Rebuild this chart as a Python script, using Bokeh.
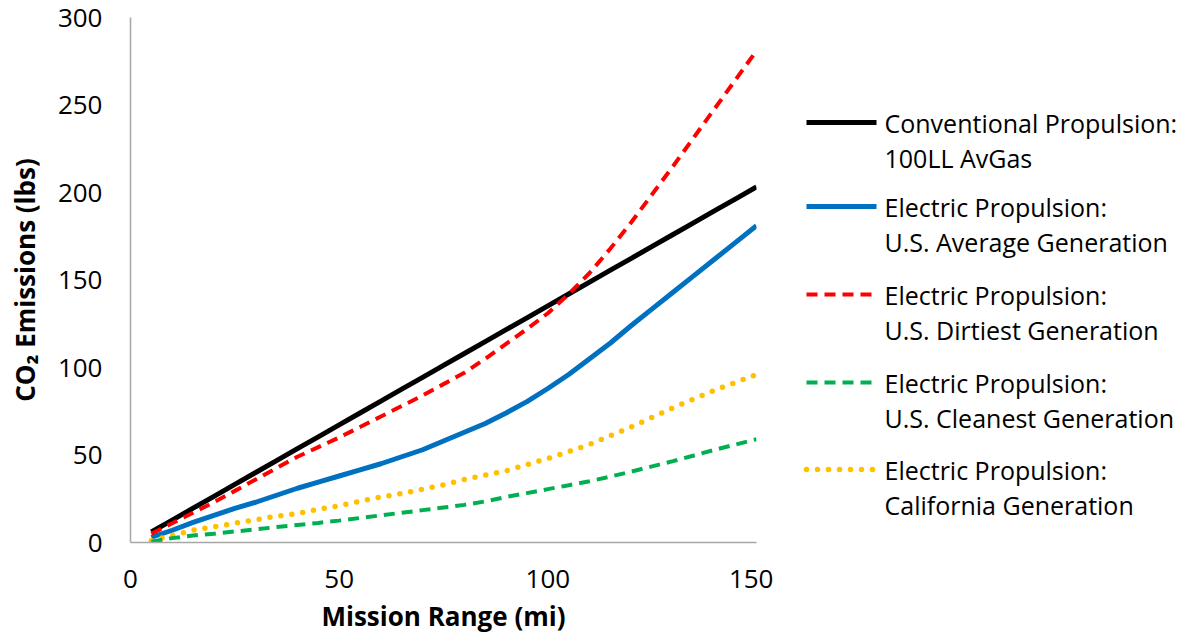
from bokeh.plotting import figure
from bokeh.models import Range1d, FixedTicker
from bokeh.layouts import row
from bokeh.embed import file_html
from bokeh.resources import INLINE
from bokeh.core.properties import value

# Data
mission_range = [5, 10, 15, 20, 25, 30, 35, 40, 45, 50, 55, 60, 65, 70, 75,
                 80, 85, 90, 95, 100, 105, 110, 115, 120, 125, 130, 135, 140, 145, 150]
conventional = [6, 12.8, 19.6, 26.4, 33.2, 40, 46.8, 53.6, 60.4, 67.2, 74, 80.8, 87.6, 94.4, 101.2,
                108, 114.8, 121.6, 128.4, 135.2, 142, 148.8, 155.6, 162.4, 169.2, 176, 182.8, 189.6, 196.4, 203.2]
us_average = [3, 7, 11.5, 15.5, 19.5, 23, 27, 31, 34.5, 38, 41.5, 45, 49, 53, 58,
              63, 68, 74, 80.5, 88, 96, 105, 114, 124, 133.5, 143, 152.5, 162, 171.5, 181]
us_dirtiest = [5, 11, 17, 23, 29.5, 36, 42.5, 49, 54.5, 60, 66, 72, 78, 84, 90.5,
               97, 105, 113.5, 122, 131, 142, 154, 168, 183, 199, 215, 231.5, 248, 264.5, 281]
us_cleanest = [0.5, 2.5, 4, 5, 6.3, 7.5, 8.8, 10, 11.2, 12.5, 14, 15.5, 17, 18.5, 20,
               21.5, 23.5, 26, 28.2, 30.5, 32.7, 35, 37.7, 40.5, 43.5, 46.5, 49.7, 53, 56, 59]
california = [1, 4, 7, 9, 11, 13, 15, 16.5, 19, 21, 23.5, 26, 28, 30.5, 33,
              36, 38.5, 41, 44.5, 48, 52, 56, 61, 66, 71.5, 77, 82, 87, 91.5, 96]

x_ticks = [0, 50, 100, 150]
y_ticks = [0, 50, 100, 150, 200, 250, 300]

series_labels = [
    ("Conventional Propulsion:", "100LL AvGas"),
    ("Electric Propulsion:", "U.S. Average Generation"),
    ("Electric Propulsion:", "U.S. Dirtiest Generation"),
    ("Electric Propulsion:", "U.S. Cleanest Generation"),
    ("Electric Propulsion:", "California Generation"),
]

FONT = "Open Sans"
ML, MT = 130, 17
FW, FH = 626, 525
MAIN_W = 773
LEG_W = 407
H = 637

styles = [
    dict(line_color="#000000", line_width=5, line_dash="solid", line_cap="butt"),
    dict(line_color="#0070C0", line_width=5, line_dash="solid", line_cap="butt"),
    dict(line_color="#FF0000", line_width=4, line_dash="11 7", line_cap="butt"),
    dict(line_color="#00B050", line_width=4, line_dash="11 7", line_cap="butt"),
    dict(line_color="#FFC000", line_width=5.5, line_dash="0 11", line_cap="round"),
]
series = [conventional, us_average, us_dirtiest, us_cleanest, california]

p = figure(width=MAIN_W, height=H, output_backend="svg", toolbar_location=None,
           x_range=Range1d(0, 150), y_range=Range1d(0, 300),
           min_border_left=ML, min_border_top=MT, min_border_right=MAIN_W - ML - FW,
           min_border_bottom=H - MT - FH)
p.outline_line_color = None
p.grid.grid_line_color = None
p.background_fill_color = "white"
p.border_fill_color = "white"

p.xaxis.ticker = FixedTicker(ticks=x_ticks)
p.yaxis.ticker = FixedTicker(ticks=y_ticks)
for ax in (p.xaxis[0], p.yaxis[0]):
    ax.axis_line_color = "#a6a6a6"
    ax.axis_line_width = 1.5
    ax.major_tick_line_color = None
    ax.minor_tick_line_color = None
    ax.major_tick_out = 0
    ax.major_tick_in = 0
    ax.major_label_text_font = FONT
    ax.major_label_text_font_size = "26px"
    ax.major_label_text_color = "#000000"
    ax.axis_label_text_font = FONT
    ax.axis_label_text_font_size = "26px"
    ax.axis_label_text_font_style = "bold"
    ax.axis_label_text_color = "#000000"

p.xaxis.axis_label = "Mission Range (mi)"
p.yaxis.axis_label = "CO\u2082 Emissions (lbs)"
p.xaxis.major_label_standoff = 27
p.xaxis.axis_label_standoff = 7
p.yaxis.major_label_standoff = 28
p.yaxis.axis_label_standoff = 12

order = [1, 4, 3, 0, 2]
for i in order:
    p.line(mission_range, series[i], **styles[i])

# Legend figure: its frame is aligned with the main frame (page y 20..545),
# so the y range is expressed in page pixels.
lg = figure(width=LEG_W, height=H, output_backend="svg", toolbar_location=None,
            x_range=Range1d(0, LEG_W), y_range=Range1d(545, 20),
            x_axis_location=None, y_axis_location=None,
            min_border=0, min_border_left=0, min_border_right=0,
            min_border_top=MT, min_border_bottom=H - MT - FH)
lg.grid.grid_line_color = None
lg.outline_line_color = None

dx = (131 - ML) + MAIN_W
x0 = 807 - dx
x1 = 877 - dx
tx = 885 - dx
row_y = [125, 209, 297, 385, 472]
for i, (l1, l2) in enumerate(series_labels):
    yy = row_y[i]
    lg.line([x0, x1], [yy, yy], **styles[i])
    lg.text([tx], [yy], text=[l1], text_font=value(FONT), text_font_size="25px",
            text_baseline="middle", text_align="left", text_color="#000000")
    lg.text([tx], [yy + 35], text=[l2], text_font=value(FONT), text_font_size="25px",
            text_baseline="middle", text_align="left", text_color="#000000")

layout = row(p, lg)
open("out.html", "w").write(file_html(layout, INLINE))
